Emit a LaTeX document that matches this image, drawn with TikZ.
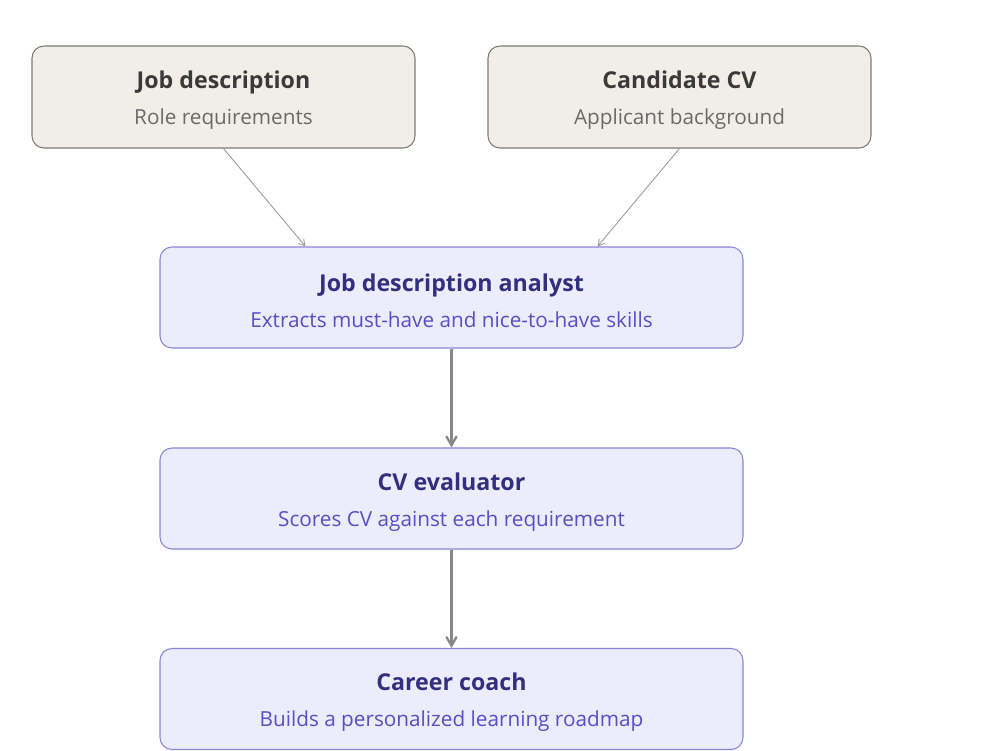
\documentclass[tikz,border=0pt]{standalone}
\usepackage{fontspec}
\setmainfont{Open Sans}
\usepackage{xcolor}
\usepackage{tikz}
\usetikzlibrary{arrows,positioning}

\definecolor{inFill}{HTML}{F1EEE8}
\definecolor{inLine}{HTML}{7E7B76}
\definecolor{inHead}{HTML}{3A3A3A}
\definecolor{inSub}{HTML}{6A6A6A}
\definecolor{agFill}{HTML}{ECECFC}
\definecolor{agLine}{HTML}{8C84D8}
\definecolor{agHead}{HTML}{332E7E}
\definecolor{agSub}{HTML}{5A4EC4}
\definecolor{flowGray}{HTML}{888888}

\newcommand{\headfont}{\fontsize{13.2}{16}\selectfont\bfseries\rule{0pt}{14pt}}
\newcommand{\subfont}{\fontsize{11.8}{20.4}\selectfont}

\begin{document}
\begin{tikzpicture}[
			scale = 1,
			every node/.style = {scale = 1},
			inbox/.style = {draw=inLine, fill=inFill, rounded corners=0.24cm, line width=0.6pt,
				minimum width=7.66cm, minimum height=2.04cm, align=center, font=\subfont},
			agbox/.style = {draw=agLine, fill=agFill, rounded corners=0.24cm, line width=0.6pt,
				minimum width=11.66cm, minimum height=2.02cm, align=center, font=\subfont},
			feed/.style = {->, >=angle 60, draw=flowGray!85, line width=0.5pt},
			flow/.style = {->, >=angle 60, draw=flowGray, line width=1.3pt}
			]

			\useasboundingbox (0,0) rectangle (20,-15);

			\node[inbox] (jobdesc) at (4.47,-1.94) {{\headfont\color{inHead}Job description}\\{\color{inSub}Role requirements}};
			\node[inbox] (cv) at (13.59,-1.94) {{\headfont\color{inHead}Candidate CV}\\{\color{inSub}Applicant background}};

			\node[agbox] (analyst) at (9.03,-5.95) {{\headfont\color{agHead}Job description analyst}\\{\color{agSub}Extracts must-have and nice-to-have skills}};
			\node[agbox] (evaluator) at (9.03,-9.97) {{\headfont\color{agHead}CV evaluator}\\{\color{agSub}Scores CV against each requirement}};
			\node[agbox] (coach) at (9.03,-13.98) {{\headfont\color{agHead}Career coach}\\{\color{agSub}Builds a personalized learning roadmap}};

			\draw[feed] (jobdesc.south) -- ([xshift=2.92cm]analyst.north west);
			\draw[feed] (cv.south) -- ([xshift=-2.92cm]analyst.north east);

			\draw[flow] (analyst) -- (evaluator);
			\draw[flow] (evaluator) -- (coach);

		\end{tikzpicture}
\end{document}
